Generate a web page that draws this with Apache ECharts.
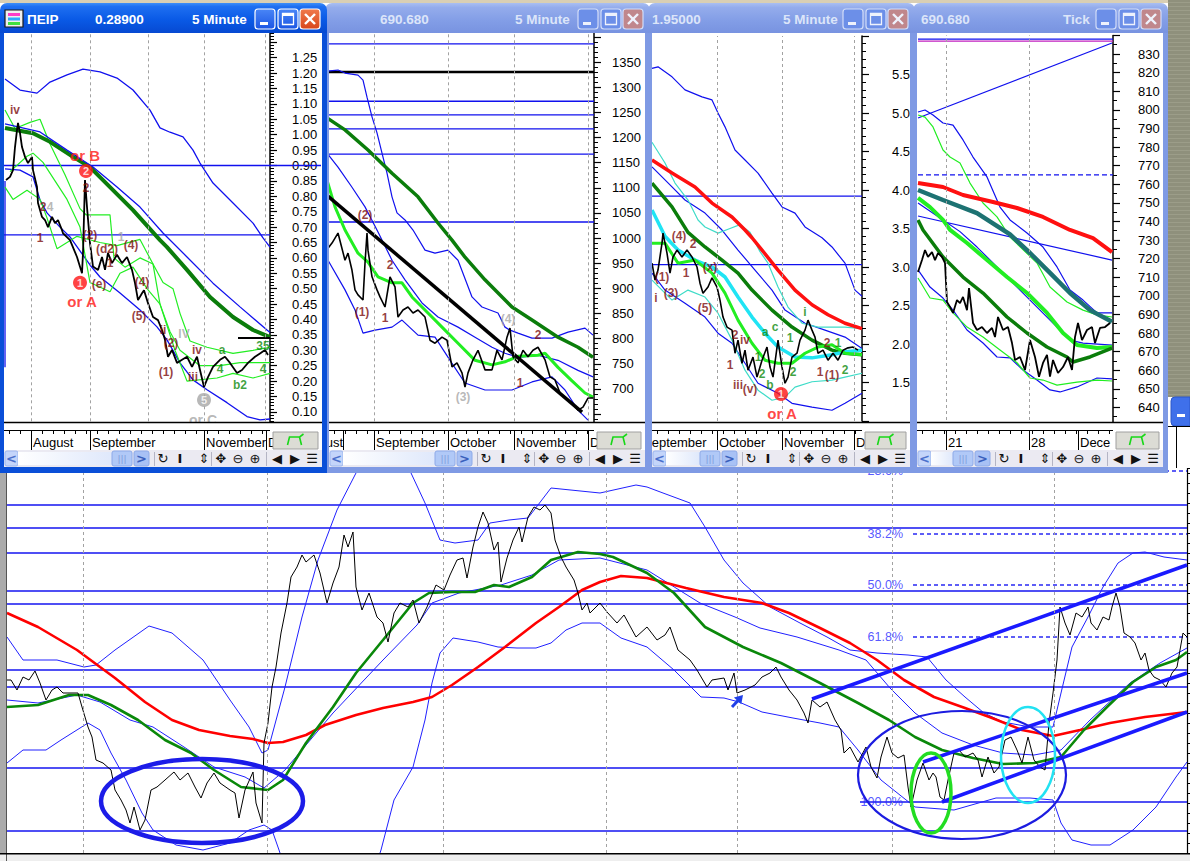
<!DOCTYPE html>
<html><head><meta charset="utf-8">
<script src="https://cdn.jsdelivr.net/npm/echarts/dist/echarts.min.js"></script>
<style>html,body{margin:0;padding:0;background:#fff;}#c{width:1190px;height:861px;}</style>
</head><body><div id="c"></div>
<script>
// ===================== DATA =====================
// ---- Window 1: ΠΕΙΡ 5 Minute (x = time position, v = price) ----
const w1Price = [[6,0.853],[10,0.863],[13,0.885],[15,0.96],[17,1.015],[18,1.038],[20,1.005],[22,0.96],[25,0.928],[28,0.908],[32,0.928],[33,0.885],[37,0.83],[38,0.778],[42,0.733],[45,0.723],[48,0.70],[52,0.733],[55,0.713],[58,0.723],[62,0.69],[63,0.68],[70,0.658],[77,0.603],[82,0.55],[83,0.616],[85,0.853],[87,0.765],[90,0.648],[93,0.572],[98,0.561],[102,0.603],[105,0.561],[108,0.616],[112,0.583],[117,0.61],[122,0.583],[127,0.603],[132,0.561],[135,0.518],[138,0.463],[142,0.485],[144,0.495],[148,0.453],[153,0.408],[158,0.398],[162,0.366],[165,0.334],[168,0.279],[172,0.301],[177,0.259],[182,0.269],[187,0.279],[192,0.246],[197,0.279],[200,0.236],[204,0.181],[208,0.213],[213,0.246],[220,0.269],[225,0.279],[230,0.259],[237,0.226],[242,0.236],[248,0.259],[255,0.279],[260,0.29],[265,0.301],[268,0.285]];
const w1UpperBand = [[5,1.181],[20,1.145],[37,1.135],[50,1.171],[67,1.194],[83,1.213],[100,1.204],[117,1.184],[133,1.145],[150,1.08],[160,1.022],[170,1.008],[183,0.993],[193,0.95],[200,0.908],[213,0.843],[233,0.778],[253,0.713],[263,0.665],[270,0.635]];
const w1MA = [[5,1.022],[33,1.005],[50,0.977],[73,0.928],[90,0.895],[110,0.83],[133,0.755],[160,0.658],[167,0.635],[187,0.561],[210,0.473],[233,0.408],[253,0.366],[270,0.343]];
const w1MidBand = [[5,1.035],[40,1.009],[67,0.95],[93,0.895],[117,0.83],[140,0.765],[163,0.681],[187,0.603],[213,0.518],[240,0.441],[267,0.366],[270,0.358]];
const w1LowerBand = [[5,0.889],[20,0.885],[33,0.863],[40,0.788],[47,0.746],[60,0.70],[70,0.668],[90,0.577],[100,0.538],[120,0.486],[140,0.431],[157,0.376],[167,0.334],[180,0.259],[193,0.204],[207,0.172],[227,0.13],[247,0.085],[260,0.074],[270,0.077]];
const w1EdgeLine = [[5,0.85],[5,0.245]];
const w1GreenA = [[5,1.08],[15,1.02],[30,1.04],[40,1.05],[50,0.97],[65,0.87],[80,0.76],[86,0.74],[110,0.74],[114,0.60],[125,0.57],[140,0.60],[153,0.58],[163,0.52],[173,0.50],[180,0.42],[190,0.33],[207,0.31],[233,0.29],[253,0.30],[270,0.31]];
const w1GreenB = [[10,0.88],[27,0.93],[33,0.94],[43,0.91],[55,0.85],[67,0.79],[80,0.70],[90,0.52],[110,0.49],[120,0.55],[133,0.57],[147,0.50],[160,0.45],[170,0.36],[180,0.30],[200,0.25],[220,0.25],[240,0.26],[270,0.26]];
const w1GreenC = [[5,0.83],[13,0.79],[27,0.82],[40,0.79],[47,0.73],[57,0.63],[77,0.67],[100,0.65],[117,0.64],[140,0.66],[153,0.58],[160,0.45],[175,0.30],[187,0.20],[217,0.21],[233,0.225],[253,0.21],[270,0.225]];
const w1Levels = [0.90, 0.675];
const w1Stub = [[238,0.34],[270,0.34]];
const w1Waves = [[15,1.08,'iv','m'],[86,0.827,'2','m'],[43,0.765,'2','m'],[50,0.765,'4','s'],[40,0.665,'1','m'],[90,0.674,'(2)','m'],[107,0.63,'(d2)','m'],[121,0.668,'1','s'],[131,0.642,'(4)','m'],[99,0.515,'(e)','m'],[110,0.585,'1','m'],[142,0.522,'(4)','m'],[139,0.411,'(5)','m'],[163,0.366,'ii','m'],[171,0.324,'(2)','m'],[197,0.301,'iv','m'],[184,0.352,'IV','s'],[166,0.23,'(1)','m'],[193,0.214,'iii','m'],[222,0.30,'a','g'],[220,0.24,'4','g'],[240,0.187,'b2','g'],[263,0.314,'35','g'],[263,0.24,'4','g'],[203,0.074,'or C','s',14]];
const w1Big = [[85,0.934,'or B','r',15],[82,0.457,'or A','r',15]];
const w1Circles = [[86,0.882,'2','r'],[80,0.519,'1','r'],[204,0.139,'5','s']];
const w1Dates = [31, 90, 148, 204, 265];
const w1Months = ['August','September','November','December'];
const w1MonthAt = [31, 90, 204, 266];

// ---- Window 2: 690.680 5 Minute ----
const w2Price = [[328,980],[332,990],[338,1010],[345,956],[348,970],[352,936],[355,897],[358,887],[363,877],[365,950],[367,1010],[368,976],[372,923],[377,897],[380,883],[385,863],[390,923],[395,903],[398,843],[403,857],[408,863],[413,851],[418,857],[425,843],[430,797],[435,791],[442,803],[447,797],[452,744],[457,752],[462,732],[465,704],[468,732],[473,758],[478,777],[485,738],[492,738],[497,777],[502,758],[507,803],[510,821],[513,764],[518,752],[523,777],[528,764],[533,777],[538,783],[545,758],[550,724],[555,718],[560,692],[565,684],[572,672],[578,658],[583,664],[588,682],[593,682]];
const w2UpperBand = [[327,1332],[338,1334],[345,1328],[358,1324],[363,1314],[367,1280],[372,1241],[377,1209],[382,1169],[387,1129],[392,1082],[397,1050],[405,1036],[413,1016],[425,976],[435,970],[448,976],[458,956],[472,883],[482,863],[498,851],[505,823],[510,817],[518,811],[532,801],[552,801],[568,813],[585,821],[593,807]];
const w2MidBand = [[327,1169],[338,1141],[352,1101],[365,1062],[378,1012],[392,956],[405,917],[422,871],[438,843],[458,823],[475,803],[492,783],[505,771],[518,763],[538,767],[558,757],[578,737],[593,724]];
const w2LowerBand = [[328,956],[345,897],[355,857],[363,811],[375,817],[392,823],[402,837],[418,807],[435,803],[452,751],[465,712],[485,698],[512,698],[532,714],[552,724],[565,698],[578,658],[588,638]];
const w2DarkMA = [[327,1239],[345,1215],[368,1175],[392,1129],[418,1082],[438,1030],[452,996],[465,962],[485,917],[512,863],[532,837],[558,803],[578,783],[593,763]];
const w2LightMA = [[327,1115],[335,1062],[345,1016],[358,970],[368,952],[378,923],[392,911],[402,911],[412,883],[425,857],[442,823],[458,791],[475,757],[492,748],[505,754],[518,765],[538,767],[545,771],[558,743],[572,716],[585,692],[593,684]];
const w2Trend = [[327,1085],[582,654]];
const w2Levels = [1386, 1272, 1245, 1217, 1167, 1032];
const w2BlackLevel = 1330;
const w2Waves = [[365,1046,'(2)','m'],[390,946,'2','m'],[362,853,'(1)','m'],[385,841,'1','m'],[463,684,'(3)','s'],[508,839,'(4)','s'],[538,807,'2','m'],[520,712,'1','m']];
const w2Dates = [374, 448, 514, 588];
const w2Months = ['August','September','October','November','December'];
const w2MonthAt = [343, 374, 448, 514, 588];

// ---- Window 3: 1.95000 5 Minute ----
const w3Price = [[652,3.05],[655,2.83],[658,2.96],[662,3.31],[663,3.44],[667,3.18],[670,2.92],[673,3.13],[677,3.22],[682,3.13],[687,3.22],[692,3.13],[697,3.0],[700,2.79],[703,2.66],[708,2.74],[712,2.86],[717,2.74],[720,2.57],[723,2.35],[727,2.22],[732,2.18],[735,1.88],[738,2.05],[742,1.75],[745,1.92],[748,1.66],[753,1.83],[757,1.57],[762,1.79],[767,1.96],[770,1.70],[773,1.57],[778,2.05],[782,1.70],[785,1.49],[788,1.57],[792,1.83],[797,1.88],[800,2.05],[805,2.18],[808,2.31],[812,2.18],[815,2.09],[818,1.88],[823,1.92],[828,1.79],[833,1.88],[838,1.79],[843,1.92],[848,1.95],[853,1.96],[858,1.92]];
const w3UpperBand = [[652,5.58],[658,5.60],[672,5.47],[685,5.30],[702,5.21],[712,5.17],[718,5.0],[725,4.82],[735,4.52],[745,4.39],[758,4.22],[772,3.96],[782,3.78],[795,3.70],[805,3.52],[822,3.38],[832,3.26],[845,3.05],[855,2.70],[862,2.62]];
const w3Red = [[652,4.39],[672,4.22],[695,4.04],[712,3.83],[732,3.65],[745,3.48],[752,3.38],[762,3.22],[778,2.96],[795,2.70],[812,2.51],[828,2.38],[845,2.27],[862,2.20]];
const w3CyanUpper = [[652,4.62],[665,4.35],[675,4.09],[688,3.87],[698,3.61],[705,3.52],[718,3.44],[730,3.50],[740,3.55],[750,3.45],[760,3.20],[768,3.05],[778,2.74],[788,2.48],[802,2.27],[818,2.22],[845,2.22],[862,2.20]];
const w3CyanLower = [[652,2.83],[672,2.57],[688,2.70],[705,2.61],[718,2.40],[732,2.05],[745,1.66],[758,1.40],[772,1.27],[785,1.31],[795,1.44],[812,1.51],[832,1.53],[845,1.57],[862,1.62]];
const w3BlueLower = [[652,2.92],[665,2.70],[685,2.53],[705,2.35],[718,2.14],[732,2.01],[745,1.75],[758,1.49],[778,1.36],[792,1.23],[812,1.18],[832,1.14],[845,1.23],[862,1.36]];
const w3BlueMid = [[652,4.30],[672,4.04],[685,3.87],[705,3.70],[722,3.48],[738,3.22],[755,2.96],[772,2.70],[785,2.44],[805,2.27],[825,2.18],[845,2.09],[862,1.94]];
const w3DarkMA = [[652,4.09],[672,3.78],[688,3.45],[705,3.26],[722,3.09],[738,2.92],[752,2.70],[772,2.44],[792,2.22],[812,2.05],[832,1.92],[845,1.88],[862,1.86]];
const w3CyanMA = [[652,3.74],[665,3.40],[678,3.22],[695,3.09],[712,3.0],[725,2.87],[738,2.61],[752,2.35],[765,2.14],[778,1.96],[795,1.83],[812,1.82],[832,1.86],[845,1.90],[862,1.92]];
const w3LightMA = [[652,3.31],[665,3.31],[678,3.05],[695,3.09],[712,2.92],[725,2.66],[738,2.31],[752,2.01],[765,1.79],[778,1.75],[792,1.75],[805,1.88],[818,1.96],[832,1.99],[845,1.88],[862,1.86]];
const w3Levels = [3.92, 3.03];
const w3Waves = [[656,2.60,'i','m'],[662,2.87,'(1)','m'],[671,2.66,'(3)','m'],[679,3.40,'(4)','m'],[693,3.30,'2','m'],[686,2.92,'1','m'],[705,2.47,'(5)','m'],[710,3.0,'(x)','m'],[745,2.05,'iv','m'],[735,2.12,'2','m'],[730,1.73,'1','m'],[738,1.47,'iii','m'],[750,1.42,'(v)','m'],[765,2.16,'a','g'],[775,2.22,'c','g'],[770,1.47,'b','g'],[758,1.83,'1','g'],[762,1.61,'2','g'],[790,2.08,'1','g'],[793,1.64,'2','g'],[805,2.42,'i','g'],[827,2.01,'2','m'],[838,2.01,'1','g'],[820,1.64,'1','m'],[832,1.60,'(1)','m'],[845,1.66,'2','g']];
const w3Big = [[782,1.10,'or A','r',15]];
const w3Circles = [[781,1.35,'1','r']];
const w3Dates = [717, 782, 854];
const w3Months = ['September','October','November','December'];
const w3MonthAt = [641, 717, 782, 854];

// ---- Window 4: 690.680 Tick ----
const w4Price = [[918,712.8],[922,719.2],[925,724.6],[928,720.9],[932,723.5],[935,719.2],[938,723],[942,720.9],[945,717.6],[947,696.7],[950,694],[953,690.8],[957,697.7],[960,696.1],[963,699.4],[967,692.3],[969,704.1],[973,685.4],[977,681.6],[982,683.2],[987,680],[992,682.7],[995,677.8],[998,688.6],[1003,681.6],[1008,683.2],[1012,674.6],[1015,665.5],[1020,667.1],[1025,660.1],[1030,676.2],[1035,667.1],[1039,656.5],[1043,663.9],[1047,668.2],[1050,656.5],[1053,665.5],[1058,658.5],[1063,661.7],[1068,667.1],[1072,660.1],[1075,677.8],[1078,685.4],[1082,676.2],[1087,681.6],[1092,683.2],[1095,674.6],[1100,682.7],[1105,683.2],[1110,685.4]];
const w4Red = [[918,760.6],[943,758.5],[963,754.2],[993,750.4],[1017,747.2],[1043,742.4],[1070,735.4],[1093,731],[1112,723.5]];
const w4Teal = [[918,756.9],[943,751.5],[977,744.5],[1010,733],[1030,723],[1050,712.3],[1070,701.5],[1090,692.3],[1112,686]];
const w4UpperBand = [[918,798.8],[925,799.9],[933,797.2],[943,792.9],[953,791.8],[963,783.8],[973,774.6],[987,763.9],[1000,747.7],[1010,740.8],[1027,733.8],[1043,726.2],[1057,715.5],[1070,703.1],[1083,697.7],[1097,690.8],[1112,690.8]];
const w4GreenUpper = [[918,797.2],[925,796.1],[933,790.8],[943,778.4],[950,774.6],[960,771.4],[970,760.6],[983,749.9],[997,742.4],[1010,731.6],[1037,717.6],[1050,704.7],[1067,696.7],[1083,692.3],[1097,689.7],[1112,688.6]];
const w4BrightMA = [[918,752.6],[930,747.7],[943,740.8],[950,735.4],[967,728.4],[987,719.2],[1007,710.1],[1027,701.5],[1047,690.8],[1063,680],[1077,673.5],[1097,671.9],[1112,672.5]];
const w4BlueMid = [[918,749.9],[943,740.8],[960,734.5],[977,726.2],[997,715.5],[1017,704.7],[1037,693.9],[1053,685.3],[1070,676.2],[1083,674.6],[1112,673.5]];
const w4DarkMA = [[918,740.8],[923,735.4],[943,720.9],[963,710.1],[983,701.5],[1007,688.6],[1027,680],[1047,672.5],[1067,667.1],[1073,664.4],[1090,667.1],[1112,671.9]];
const w4LowerBand = [[918,713.9],[930,704.7],[943,698.8],[953,692.3],[967,681.6],[983,674.6],[997,667.1],[1010,666.6],[1023,660.1],[1037,654.7],[1050,649.4],[1060,648.3],[1077,651],[1097,655.8],[1112,655.3]];
const w4GreenLower = [[918,709.6],[930,698.8],[943,697.7],[953,690.8],[967,683.2],[983,677.8],[1000,670.9],[1017,664],[1030,655.8],[1043,654.7],[1057,652],[1077,653.6],[1097,654.7],[1112,654.2]];
const w4TrendUp = [[918,795.6],[1112,835.9]];
const w4TrendDown = [[918,742.9],[1112,719.2]];
const w4TopBlue = 838, w4TopMagenta = 836.9, w4Dashed = 765;
const w4Dates = [946, 1029];
const w4Months = ['21','28','December'];
const w4MonthAt = [946, 1029, 1078];

// ---- Bottom chart (x = time position, v = level) ----
const mainPrice = [[7,173],[11,173],[17,163],[23,176],[29,173],[35,182],[40,170],[46,153],[52,163],[57,166],[63,160],[71,160],[78,160],[82,146],[88,126],[92,116],[96,93],[103,90],[111,83],[115,63],[121,53],[126,43],[130,30],[134,46],[140,23],[145,33],[151,63],[157,66],[165,73],[174,81],[180,73],[188,80],[195,66],[201,55],[207,70],[214,80],[220,70],[230,63],[235,60],[239,35],[245,63],[253,81],[256,50],[262,30],[264,110],[268,130],[272,166],[276,186],[281,220],[287,250],[291,276],[297,286],[302,298],[306,291],[314,298],[320,280],[327,250],[333,270],[339,286],[344,318],[348,306],[353,321],[356,266],[362,243],[369,260],[377,236],[383,230],[388,211],[394,240],[400,250],[408,246],[413,253],[419,230],[427,246],[436,268],[444,263],[450,278],[457,293],[463,295],[467,275],[473,306],[478,326],[483,341],[488,330],[494,303],[498,311],[501,271],[507,295],[513,313],[519,326],[522,311],[528,336],[534,346],[540,343],[545,348],[551,340],[555,313],[561,296],[566,286],[574,273],[578,260],[582,243],[587,250],[590,240],[600,250],[607,241],[617,230],[624,238],[636,216],[647,226],[657,213],[665,218],[670,226],[678,203],[690,193],[697,183],[707,166],[712,173],[724,175],[728,163],[734,180],[737,160],[745,163],[755,168],[762,176],[770,180],[776,186],[781,176],[789,163],[797,153],[804,140],[808,130],[812,153],[820,146],[827,151],[835,133],[841,123],[844,100],[850,106],[858,91],[866,106],[871,86],[877,75],[881,96],[887,116],[892,100],[898,95],[904,98],[908,66],[911,46],[917,73],[923,90],[929,73],[933,80],[936,76],[940,56],[944,53],[948,73],[954,100],[959,103],[965,96],[973,100],[978,93],[982,76],[988,96],[994,80],[999,86],[1005,113],[1011,116],[1017,103],[1022,90],[1028,116],[1034,93],[1040,86],[1045,83],[1049,130],[1053,160],[1057,193],[1060,246],[1065,230],[1070,218],[1076,240],[1082,236],[1088,246],[1091,230],[1097,223],[1103,236],[1109,233],[1112,246],[1116,260],[1120,246],[1124,220],[1130,216],[1135,210],[1141,193],[1145,200],[1149,183],[1154,176],[1160,173],[1166,166],[1172,180],[1177,186],[1183,220],[1187,216]];
const mainRed = [[7,240],[38,226],[77,203],[100,186],[115,175],[145,151],[172,133],[199,123],[230,117],[253,114],[268,110],[283,111],[306,118],[325,128],[356,138],[383,145],[413,151],[432,156],[452,168],[478,186],[505,206],[536,230],[559,246],[582,263],[600,271],[621,277],[647,275],[686,265],[724,256],[762,250],[789,240],[820,225],[850,210],[877,193],[904,173],[934,156],[965,145],[992,135],[1022,123],[1053,117],[1080,123],[1110,130],[1145,136],[1187,141]];
const mainGreen = [[7,146],[38,148],[69,158],[88,158],[111,148],[138,133],[165,113],[191,100],[214,83],[241,66],[268,63],[283,73],[306,110],[333,146],[356,180],[383,213],[413,250],[429,260],[452,261],[475,261],[494,268],[509,266],[532,276],[551,293],[578,301],[600,299],[613,296],[647,280],[674,260],[705,226],[743,206],[781,190],[820,170],[858,150],[889,133],[915,116],[942,103],[973,95],[1003,89],[1034,90],[1061,96],[1084,123],[1107,146],[1133,171],[1156,186],[1176,193],[1187,201]];
const mainUpper = [[7,216],[23,193],[57,193],[84,186],[96,188],[115,203],[149,227],[172,220],[203,193],[230,153],[249,126],[262,100],[268,103],[285,166],[302,236],[318,293],[337,343],[356,380],[380,430],[400,430],[411,380],[425,350],[440,313],[455,310],[478,313],[490,330],[509,333],[528,335],[551,365],[600,360],[636,368],[647,366],[663,360],[690,350],[705,326],[724,293],[743,270],[770,246],[800,230],[827,216],[850,203],[877,200],[908,198],[927,196],[946,173],[965,156],[984,140],[1003,131],[1030,126],[1053,126],[1061,160],[1072,206],[1088,236],[1103,266],[1118,290],[1133,300],[1145,301],[1164,296],[1187,293]];
const mainLower = [[7,90],[23,103],[46,103],[61,113],[88,130],[100,123],[111,100],[126,73],[142,40],[153,23],[176,8],[203,3],[230,10],[249,23],[264,28],[272,23],[279,3],[290,-30],[370,-30],[381,3],[394,53],[413,86],[425,133],[432,170],[440,200],[453,215],[478,211],[498,206],[517,205],[536,205],[551,210],[566,223],[582,230],[600,230],[621,215],[647,206],[674,183],[701,156],[724,155],[739,151],[762,141],[793,135],[820,130],[839,126],[858,103],[881,73],[915,46],[954,43],[996,55],[1030,55],[1053,53],[1061,30],[1072,13],[1091,8],[1110,8],[1133,23],[1156,46],[1176,76],[1187,91]];
const mainMid = [[7,153],[38,150],[77,158],[100,151],[130,133],[153,126],[184,106],[214,86],[245,76],[264,65],[285,83],[333,140],[383,193],[417,228],[432,250],[459,260],[501,268],[532,278],[559,293],[600,295],[647,283],[700,250],[735,236],[760,225],[797,216],[839,203],[866,193],[890,165],[915,140],[942,120],[973,108],[1003,100],[1034,98],[1061,103],[1090,133],[1130,170],[1160,190],[1187,205]];
const mainLevels = [348, 325, 300, 262, 249, 183, 166, 85, 22];
const level100 = 51;
const fibLabels = ['23.6%','38.2%','50.0%','61.8%','100.0%'];
const fibValues = [382, 319, 268, 216, 51];
const trendUpper = [[812,154],[1187,288]];
const trendMiddle = [[923,91],[1187,180]];
const trendLower = [[942,51],[1187,141]];
const mainDates = [83, 267, 443, 606, 737, 892, 1054];
// annotation ellipses: [centre x, centre v, radius x, radius v]
const ringBig = [202, 52, 101, 42];
const ringRight = [962, 78, 104, 64];
const ringGreen = [931, 60, 20, 40];
const ringCyan = [1028, 98, 27, 48];
const arrowFromTo = [[732,146],[743,158]];

// ===================== STYLE / LAYOUT =====================
const FONT = "'Liberation Sans', Arial, sans-serif";
const TFONT = "'DejaVu Sans', Verdana, sans-serif";
const COL = {m:'#7c0d0d', r:'#ff1414', g:'#0d8a0d', s:'#a6a6a6', k:'#000'};
const BLUE = '#1010ee', DKGREEN = '#0b7d0b', LTGREEN = '#22ee22', RED = '#ff1010', CYAN = '#20e4f4', CYANTHIN = '#3fdcc8';

const S = [];
function ln(g, data, color, width, extra) {
  const s = {type:'line', xAxisIndex:g, yAxisIndex:g, data:data, symbol:'none', showSymbol:false, silent:true, animation:false, z:2, lineStyle:Object.assign({color:color, width:width}, extra||{})};
  S.push(s); return s;
}
function hl(g, v, x0, x1, color, width, extra) { return ln(g, [[x0,v],[x1,v]], color, width, extra); }
function vl(g, anchor, xs) {
  S.push({type:'line', xAxisIndex:g, yAxisIndex:g, data:[anchor], symbol:'none', silent:true, animation:false, z:1, lineStyle:{width:0},
    markLine:{silent:true, symbol:['none','none'], animation:false, label:{show:false}, lineStyle:{color:'#a2a2a2', type:[3,3], width:1}, data: xs.map(x=>({xAxis:x}))}});
}
function lbl(g, arr, size, circle) {
  S.push({type:'scatter', xAxisIndex:g, yAxisIndex:g, silent:true, animation:false, z:6, symbolSize: circle ? 14 : 1,
    data: arr.map(a => ({value:[a[0], a[1]], itemStyle:{color: circle ? COL[a[3]] : 'rgba(0,0,0,0)'},
      label:{show:true, position:'inside', formatter:a[2], color: circle ? '#fff' : COL[a[3]], fontSize: a[4] || size, fontWeight:'bold', fontFamily:FONT}}))});
}

const GR = [
  {left:4, width:266, top:26.9, height:400.4},
  {left:327, width:267, top:11.7, height:427.6},
  {left:651, width:211, top:36, height:385},
  {left:918, width:195, top:35.4, height:390.6},
  {left:7, width:1180, top:468, height:385}
];
const XR = [[4,270],[327,594],[651,862],[918,1113],[7,1187]];
const YA = [
  {min:0.05, max:1.35, interval:0.05, lo:0.10, hi:1.25, dec:2, margin:22, minor:5},
  {min:600, max:1450, interval:50, lo:700, hi:1350, dec:0, margin:18, minor:5},
  {min:1.0, max:6.0, interval:0.5, lo:1.5, hi:5.5, dec:1, margin:30, minor:5},
  {min:630, max:840, interval:10, lo:640, hi:830, dec:0, margin:25, minor:2}
];

const yAxes = YA.map((a,i)=>({type:'value', gridIndex:i, position:'right', min:a.min, max:a.max, interval:a.interval,
  axisLine:{show:true, lineStyle:{color:'#000', width:1.5}},
  axisTick:{show:true, length:7, lineStyle:{color:'#000', width:1.2}},
  minorTick:{show:true, splitNumber:a.minor, length:4, lineStyle:{color:'#000', width:1}},
  splitLine:{show:false},
  axisLabel:{show:true, margin:a.margin, color:'#000', fontSize:13, fontFamily:FONT, align:'left',
    formatter: v => (v < a.lo - 1e-9 || v > a.hi + 1e-9) ? '' : v.toFixed(a.dec)}}));
yAxes.push({type:'value', gridIndex:4, position:'right', min:0, max:385, interval:10,
  axisLine:{show:true, lineStyle:{color:'#000', width:1.2}}, axisTick:{show:true, length:3, lineStyle:{color:'#000'}},
  splitLine:{show:false}, axisLabel:{show:false}});
const xAxes = XR.map((r,i)=>({type:'value', gridIndex:i, min:r[0], max:r[1], show:false}));

// ---------- Window 1 series ----------
vl(0, [4,0.05], w1Dates);
w1Levels.forEach(v => hl(0, v, 4, 270, BLUE, 1.3));
ln(0, w1UpperBand, BLUE, 1.3);
ln(0, w1LowerBand, BLUE, 1.3);
ln(0, w1EdgeLine, BLUE, 1.3);
ln(0, w1GreenA, LTGREEN, 1.2);
ln(0, w1GreenB, LTGREEN, 1.2);
ln(0, w1GreenC, LTGREEN, 1.2);
ln(0, w1MA, DKGREEN, 4);
ln(0, w1MidBand, BLUE, 1.3);
ln(0, w1Price, '#000', 1.8);
ln(0, w1Stub, '#000', 2);
lbl(0, w1Waves, 12, false);
lbl(0, w1Big, 15, false);
lbl(0, w1Circles, 11, true);

// ---------- Window 2 series ----------
vl(1, [327,600], w2Dates);
w2Levels.forEach(v => hl(1, v, 327, 594, BLUE, 1.3));
hl(1, w2BlackLevel, 327, 594, '#000', 2.5);
ln(1, w2UpperBand, BLUE, 1.2);
ln(1, w2MidBand, BLUE, 1.2);
ln(1, w2LowerBand, BLUE, 1.2);
ln(1, w2DarkMA, DKGREEN, 3.5);
ln(1, w2LightMA, LTGREEN, 3);
ln(1, w2Trend, '#000', 3.5);
ln(1, w2Price, '#000', 1.6);
lbl(1, w2Waves, 12, false);

// ---------- Window 3 series ----------
vl(2, [651,1], w3Dates);
w3Levels.forEach(v => hl(2, v, 651, 862, BLUE, 1.3));
ln(2, w3UpperBand, BLUE, 1.2);
ln(2, w3BlueMid, BLUE, 1.2);
ln(2, w3BlueLower, BLUE, 1.2);
ln(2, w3CyanUpper, CYANTHIN, 1.2);
ln(2, w3CyanLower, CYANTHIN, 1.2);
ln(2, w3Red, RED, 3.5);
ln(2, w3DarkMA, DKGREEN, 3.5);
ln(2, w3CyanMA, CYAN, 3.5);
ln(2, w3LightMA, LTGREEN, 3);
ln(2, w3Price, '#000', 1.6);
lbl(2, w3Waves, 12, false);
lbl(2, w3Big, 15, false);
lbl(2, w3Circles, 11, true);

// ---------- Window 4 series ----------
vl(3, [918,630], w4Dates);
hl(3, w4TopBlue, 918, 1113, BLUE, 1.2);
hl(3, w4TopMagenta, 918, 1113, '#c020c0', 1.2);
hl(3, w4Dashed, 918, 1113, BLUE, 1.3, {type:[5,3]});
ln(3, w4TrendUp, BLUE, 1.2);
ln(3, w4TrendDown, BLUE, 1.2);
ln(3, w4UpperBand, BLUE, 1.2);
ln(3, w4GreenUpper, LTGREEN, 1.2);
ln(3, w4LowerBand, BLUE, 1.2);
ln(3, w4GreenLower, LTGREEN, 1.2);
ln(3, w4BlueMid, BLUE, 1.2);
ln(3, w4Red, RED, 4);
ln(3, w4Teal, '#1d7272', 4.5);
ln(3, w4BrightMA, LTGREEN, 4);
ln(3, w4DarkMA, DKGREEN, 3.5);
ln(3, w4Price, '#000', 1.8);

// ---------- Bottom chart series ----------
vl(4, [7,0], mainDates);
mainLevels.forEach(v => hl(4, v, 7, 1187, '#1414f0', 1.6));
hl(4, level100, 860, 1187, '#1414f0', 1.6);
fibValues.slice(0,4).forEach(v => hl(4, v, 913, 1187, '#2828f4', 1.3, {type:[4,3]}));
ln(4, mainUpper, '#2020ff', 1);
ln(4, mainLower, '#2020ff', 1);
ln(4, mainMid, '#2020ff', 1);
ln(4, mainRed, '#ff0000', 2.6);
ln(4, mainGreen, '#0a880a', 2.6);
ln(4, mainPrice, '#000', 1);
ln(4, trendUpper, '#1a1aff', 3.5);
ln(4, trendMiddle, '#1a1aff', 3.5);
ln(4, trendLower, '#1a1aff', 3.5);
S.push({type:'scatter', xAxisIndex:4, yAxisIndex:4, silent:true, animation:false, z:6, symbolSize:1,
  data: fibLabels.map((t,i)=>({value:[903, fibValues[i]], itemStyle:{color:'rgba(0,0,0,0)'},
    label:{show:true, position:'inside', align:'right', formatter:t, color:'#2a2aff', fontSize:12.5, fontFamily:FONT}}))});

const option = {backgroundColor:'#fff', animation:false, grid:GR.map(g=>Object.assign({containLabel:false}, g)), xAxis:xAxes, yAxis:yAxes, series:S};

const chart = echarts.init(document.getElementById('c'), null, {renderer:'svg', width:1190, height:861});
chart.setOption(option);

// ===================== CHROME & ANNOTATIONS =====================
const G = [];
const Z = 100;
function rect(x,y,w,h,fill,stroke,lw,r,z){ G.push({type:'rect', z:z||Z, silent:true, shape:{x:x,y:y,width:w,height:h,r:r||0}, style:{fill:fill, stroke:stroke||null, lineWidth:lw||0}}); }
function line(x1,y1,x2,y2,stroke,lw,z){ G.push({type:'line', z:z||Z, silent:true, shape:{x1:x1,y1:y1,x2:x2,y2:y2}, style:{stroke:stroke, lineWidth:lw||1}}); }
function text(t,x,y,fill,font,align,extra,z){ G.push({type:'text', z:z||Z, silent:true, style:Object.assign({text:t, x:x, y:y, fill:fill, font:font, textAlign:align||'left', textVerticalAlign:'middle', align:align||'left', verticalAlign:'middle'}, extra||{})}); }
function grad(stops, horiz){ return {type:'linear', x:0, y:0, x2:horiz?1:0, y2:horiz?0:1, colorStops:stops.map(s=>({offset:s[0], color:s[1]}))}; }

function windowChrome(w) {
  const {x0, x1, plotR, active} = w;
  // x axis strip
  rect(x0+4, 422, x1-x0-9, 28, '#fff');
  line(x0+4, 422.5, x1-5, 422.5, '#000', 1.6);
  line(x0+4, 430.5, plotR, 430.5, '#000', 1);
  for (let x = x0+9; x < plotR; x += 11) line(x+0.5, 430.5, x+0.5, 434, '#000', 1);
  w.months.forEach((m,i)=>{
    const sx = w.monthAt[i];
    const last = i === w.months.length-1;
    if (w.leadRight && i === 0) text(m, sx, 442.5, '#000', '13px '+FONT, 'right');
    else text(m, sx+2, 442.5, '#000', '13px '+FONT, 'left', last ? {width:w.lastWidth, overflow:'truncate', ellipsis:''} : null);
    if (sx > x0+4 && sx < plotR) line(sx+0.5, 430.5, sx+0.5, 450, '#000', 1);
  });
  // cover beyond the axis line, then green icon box
  rect(plotR+3, 431, x1-5-(plotR+3), 19, '#fff');
  rect(plotR+3, 432, (x1-9)-(plotR+3), 17, '#dcdcd5', '#a0a0a0', 1);
  const cx = (plotR + x1 - 6)/2;
  G.push({type:'polyline', z:Z, silent:true, shape:{points:[[cx-8,445],[cx-6,437],[cx+4,437],[cx+6,445],[cx+4,437],[cx+8,434]]}, style:{stroke:'#18d818', lineWidth:1.6, fill:null}});
  // toolbar
  rect(x0+4, 450, x1-x0-9, 17, '#ebeaf2');
  rect(x0+5, 451, 13, 15, '#c4d5fa', '#9db6ee', 1, 2);
  text('<', x0+11.5, 458.5, '#4a70cc', 'bold 13px '+TFONT, 'center');
  rect(x0+18, 452, (x1-215)-(x0+18), 13, grad([[0,'#ffffff'],[1,'#dfe8fb']], true));
  rect(x1-215, 451, 20, 15, '#b1c9f7', '#8eaae8', 1, 2);
  text('|||', x1-205, 458.5, '#7c99dc', '9px '+TFONT, 'center');
  rect(x1-193, 451, 15, 15, '#a8c1f5', '#8eaae8', 1, 2);
  text('>', x1-185.5, 458.5, '#3a5fbc', 'bold 13px '+TFONT, 'center');
  line(x1-172.5, 452, x1-172.5, 466, '#b4b4c4', 1);
  const icons = ['↻','I','⇕','✥','⊖','⊕','◀','▶','☰'];
  const offs = [-164,-147,-123,-106,-89,-72,-50,-32,-15];
  icons.forEach((c,i)=> text(c, x1+offs[i], 458.5, '#111', (i===1?'bold ':'')+'13px '+TFONT, 'center'));
  line(x1-115.5, 452, x1-115.5, 466, '#b4b4c4', 1);
  line(x1-60.5, 452, x1-60.5, 466, '#b4b4c4', 1);
  // frame
  const border = active ? '#0a4fd8' : '#7f9ae4';
  rect(x0, 33, 4, 440, border);
  rect(x1-5, 33, 5, 440, border);
  rect(x0, 467, x1-x0, 6, border);
  const tstops = active ? [[0,'#3d8ef8'],[0.12,'#1e6ff1'],[0.55,'#0a5ae6'],[1,'#0649d2']] : [[0,'#a9bff2'],[0.15,'#94acec'],[0.6,'#829de6'],[1,'#7893e0']];
  rect(x0, 3, x1-x0, 30, grad(tstops), null, 0, [7,7,0,0]);
  const tcol = active ? '#ffffff' : '#dce5f9';
  w.titles.forEach(t => text(t[0], t[1], 19.5, tcol, 'bold 13.5px '+FONT, 'left'));
  if (w.icon) {
    rect(5, 10, 18, 17, '#efefef', '#1a1a1a', 1.2);
    rect(8, 13, 12, 3, '#ff3cc8'); rect(8, 17.5, 12, 3, '#30a8ff'); rect(8, 22, 12, 3, '#40e040');
  }
  // buttons
  const bx = [x1-72, x1-49, x1-27];
  const glyph = active ? '#ffffff' : '#eef2fc';
  const bstroke = active ? '#ffffff' : '#d2ddf8';
  rect(bx[0], 9, 20, 20, active ? grad([[0,'#4a86f6'],[1,'#1c56e4']]) : '#6c8fe8', bstroke, 1.2, 3);
  rect(bx[0]+5, 22, 8, 3, glyph);
  rect(bx[1], 9, 20, 20, active ? grad([[0,'#4a86f6'],[1,'#1c56e4']]) : '#6c8fe8', bstroke, 1.2, 3);
  G.push({type:'rect', z:Z, silent:true, shape:{x:bx[1]+4.5, y:13.5, width:11, height:11}, style:{fill:null, stroke:glyph, lineWidth:1.3}});
  rect(bx[1]+4.5, 13.5, 11, 2.5, glyph);
  rect(bx[2], 9, 20, 20, active ? grad([[0,'#f07a4c'],[1,'#d8461c']]) : '#c0878c', bstroke, 1.2, 3);
  line(bx[2]+5, 14, bx[2]+15, 24, glyph, 2.4);
  line(bx[2]+15, 14, bx[2]+5, 24, glyph, 2.4);
}

// page background pieces
rect(0, 0, 1190, 3, '#d9cfb4', null, 0, 0, 90);
rect(1168, 0, 22, 397, '#8f907c', null, 0, 0, 90);
for (let y = 2; y < 396; y += 4) line(1168, y+0.5, 1190, y+0.5, '#9c9d89', 1, 91);
rect(1171, 397, 19, 29, '#3f70ea', '#2c56c8', 1, [4,0,0,4], 91);
rect(1177, 414, 8, 3, '#fff', null, 0, 0, 92);
rect(1168, 426, 22, 42, '#fff', null, 0, 0, 90);
line(1176.5, 426, 1176.5, 468, '#000', 1, 91);
line(1168, 426.5, 1190, 426.5, '#000', 1, 91);
// bottom chart frame
rect(0, 468, 6, 393, '#ababab', null, 0, 0, 90);
line(6.5, 468, 6.5, 861, '#555', 1, 91);
rect(0, 854, 1190, 7, '#eeeeee', null, 0, 0, 90);
line(0, 853.8, 1190, 853.8, '#000', 1.5, 91);

windowChrome({x0:913, x1:1168, plotR:1113, active:false, titles:[['690.680',921],['Tick',1063]], months:w4Months, monthAt:w4MonthAt, lastWidth:36});
windowChrome({x0:648, x1:915, plotR:862, active:false, titles:[['1.95000',652],['5 Minute',783]], months:w3Months, monthAt:w3MonthAt, lastWidth:15});
windowChrome({x0:325, x1:650, plotR:594, active:false, titles:[['690.680',380],['5 Minute',515]], months:w2Months, monthAt:w2MonthAt, leadRight:true, lastWidth:15});
windowChrome({x0:0, x1:327, plotR:270, active:true, icon:true, titles:[['ΠΕΙΡ',27],['0.28900',95],['5 Minute',192]], months:w1Months, monthAt:w1MonthAt, lastWidth:15});

// annotations placed through the chart's own scales
const P = (g, p) => chart.convertToPixel({gridIndex:g}, p);
function ring(r, stroke, lw) {
  const c = P(4, [r[0], r[1]]), e = P(4, [r[0]+r[2], r[1]+r[3]]);
  G.push({type:'ellipse', z:50, silent:true, shape:{cx:c[0], cy:c[1], rx:Math.abs(e[0]-c[0]), ry:Math.abs(c[1]-e[1])}, style:{fill:null, stroke:stroke, lineWidth:lw}});
}
ring(ringBig, '#1c1ce8', 4.5);
ring(ringRight, '#1c1ce0', 2.2);
ring(ringGreen, '#22dd22', 3.5);
ring(ringCyan, '#22e2f2', 2.5);
(function(){
  const a = P(4, arrowFromTo[0]), b = P(4, arrowFromTo[1]);
  const dx = b[0]-a[0], dy = b[1]-a[1], L = Math.hypot(dx,dy), ux = dx/L, uy = dy/L;
  G.push({type:'line', z:50, silent:true, shape:{x1:a[0], y1:a[1], x2:b[0]-ux*5, y2:b[1]-uy*5}, style:{stroke:'#2040e8', lineWidth:3}});
  G.push({type:'polygon', z:50, silent:true, shape:{points:[[b[0],b[1]],[b[0]-ux*8-uy*5,b[1]-uy*8+ux*5],[b[0]-ux*8+uy*5,b[1]-uy*8-ux*5]]}, style:{fill:'#2040e8'}});
})();
(function(){
  const a = P(0, [270, w1Levels[0]]);
  G.push({type:'line', z:50, silent:true, shape:{x1:a[0], y1:a[1], x2:321, y2:a[1]}, style:{stroke:BLUE, lineWidth:1.3}});
})();

chart.setOption({graphic:{elements:G}});
</script></body></html>
